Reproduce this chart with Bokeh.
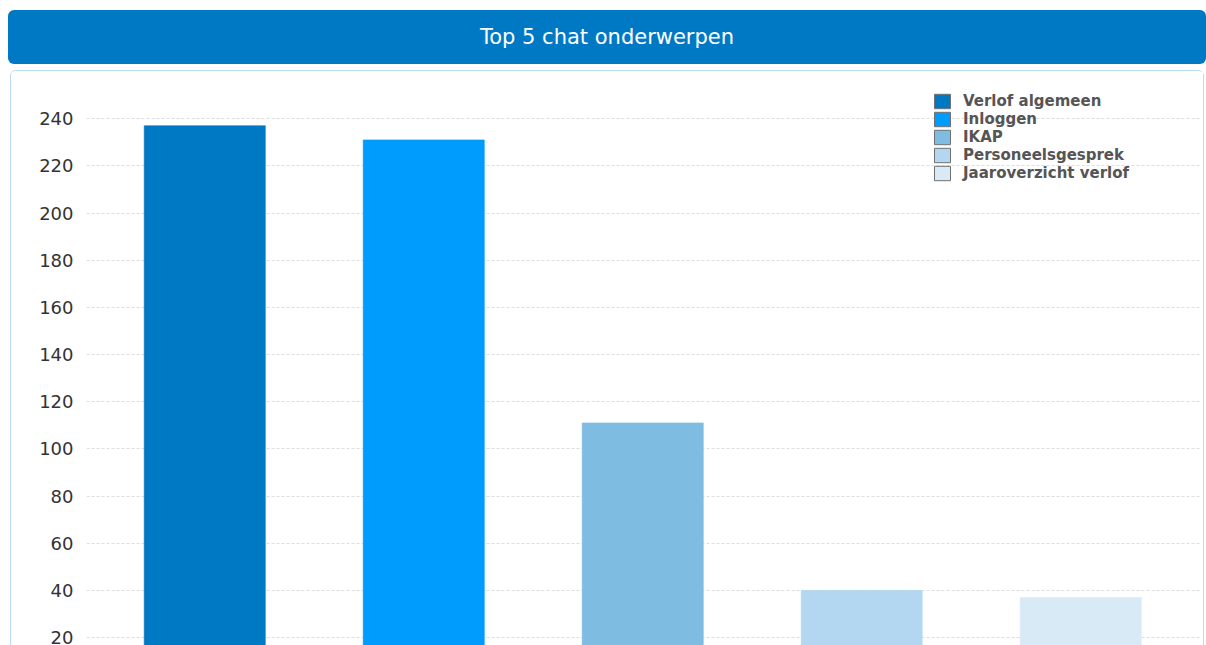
from bokeh.plotting import figure
from bokeh.models import (ColumnDataSource, Range1d, FixedTicker, Div, Legend, LegendItem)
from bokeh.layouts import column
from bokeh.embed import file_html
from bokeh.resources import INLINE

# ---- data ----
title_text = "Top 5 chat onderwerpen"
categories = ["Verlof algemeen", "Inloggen", "IKAP", "Personeelsgesprek", "Jaaroverzicht verlof"]
counts = [237, 231, 111, 40, 37]
colors = ["#0079c5", "#009cfd", "#7fbce1", "#b3d7f0", "#d9eaf7"]
y_ticks = [20, 40, 60, 80, 100, 120, 140, 160, 180, 200, 220, 240]

FONT = "DejaVu Sans"

# ---- title bar ----
title_bar = Div(text=title_text, width=1198, height=54, margin=(10, 0, 6, 8),
                styles={"background-color": "#0079c5", "border-radius": "6px",
                        "color": "white", "font-family": FONT, "font-size": "21px",
                        "text-align": "center", "line-height": "54px"})

# ---- main chart ----
xs = list(range(len(categories)))
src = ColumnDataSource(dict(x=xs, top=counts, color=colors, name=categories))

p = figure(width=1194, height=575, x_range=Range1d(-0.54, 4.547), y_range=Range1d(16.2, 260),
           output_backend="svg", toolbar_location=None,
           min_border_left=75, min_border_right=5, min_border_top=0, min_border_bottom=0)
p.margin = (0, 0, 0, 10)
p.styles = {"border": "1px solid #b9dcf2", "border-bottom": "none",
            "border-radius": "6px 6px 0 0"}
p.outline_line_color = None
p.background_fill_color = "white"
p.border_fill_color = "white"

p.vbar(x="x", top="top", bottom=0, width=0.553, source=src, fill_color="color",
       line_color="color", line_alpha=0.6)

# legend proxies (zero-height, outside the visible range)
items = []
for name, c in zip(categories, colors):
    r = p.vbar(x=[-100], top=[0], bottom=[0], width=0.5, fill_color=c,
               line_color="#707070", line_width=1)
    items.append(LegendItem(label=name, renderers=[r]))

legend = Legend(items=items, location=(846, 464), padding=0, margin=0, spacing=0,
                glyph_width=20, glyph_height=18, label_height=18, label_standoff=11,
                label_text_font=FONT, label_text_font_size="15px",
                label_text_font_style="bold", label_text_color="#555555",
                background_fill_alpha=0, border_line_color=None)
p.add_layout(legend)

p.xaxis.visible = False
p.xgrid.visible = False
p.ygrid.grid_line_color = "#dddddd"
p.ygrid.grid_line_dash = "3 2"
p.ygrid.grid_line_width = 1

p.yaxis.ticker = FixedTicker(ticks=y_ticks)
p.yaxis.axis_line_color = None
p.yaxis.major_tick_line_color = None
p.yaxis.minor_tick_line_color = None
p.yaxis.major_tick_in = 0
p.yaxis.major_tick_out = 0
p.yaxis.major_label_standoff = 13
p.yaxis.major_label_text_font = FONT
p.yaxis.major_label_text_font_size = "18px"
p.yaxis.major_label_text_color = "#333333"

layout = column(title_bar, p, spacing=0)
open("out.html", "w").write(file_html(layout, INLINE))
